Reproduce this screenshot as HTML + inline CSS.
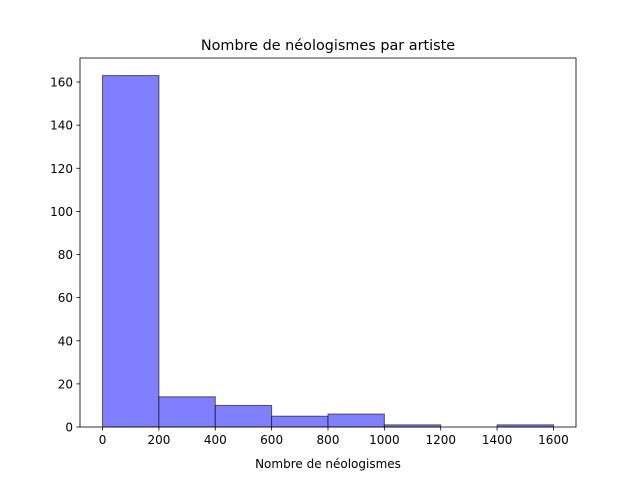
<!DOCTYPE html>
<html><head><meta charset="utf-8"><style>
body{margin:0;background:#fff;}
svg{display:block;font-family:"DejaVu Sans","Liberation Sans",sans-serif;}
</style></head><body>
<svg id="chart" width="640" height="480" viewBox="0 0 640 480">
<rect width="640" height="480" fill="#fff"/>
<text x="328" y="50" text-anchor="middle" font-size="14.4" fill="#000">Nombre de néologismes par artiste</text>
<g id="bars"></g>
<g id="xticks"></g>
<g id="yticks"></g>
<rect x="80" y="58" width="496" height="369" fill="none" stroke="#000" stroke-width="0.8"/>
<text x="328" y="468" text-anchor="middle" font-size="12" fill="#000">Nombre de néologismes</text>
</svg>
<script>
const binEdges = [0,200,400,600,800,1000,1200,1400,1600];
const counts = [163,14,10,5,6,1,0,1];
const xTicks = [0,200,400,600,800,1000,1200,1400,1600];
const yTicks = [0,20,40,60,80,100,120,140,160];

const ns = "http://www.w3.org/2000/svg";
const L=80,R=576,T=58,B=427;
const xMin=-80,xMax=1680,yMin=0,yMax=Math.max(...counts)*1.05;
function x(v){return L+(v-xMin)/(xMax-xMin)*(R-L);}
function y(v){return B-(v-yMin)/(yMax-yMin)*(B-T);}
function mk(tag,attrs,parent){const e=document.createElementNS(ns,tag);for(const k in attrs)e.setAttribute(k,attrs[k]);parent.appendChild(e);return e;}

const bars=document.getElementById('bars');
counts.forEach((c,i)=>{
  const x0=x(binEdges[i]),x1=x(binEdges[i+1]);
  const r=mk('rect',{x:x0,y:y(c),width:x1-x0,height:y(0)-y(c),fill:'#8080ff',stroke:'rgba(0,0,0,0.6)','stroke-width':1},bars);
  
  
});
const xt=document.getElementById('xticks');
xTicks.forEach(v=>{
  const g=mk('g',{},xt);
  
  
  mk('line',{x1:x(v),x2:x(v),y1:B,y2:B+3.5,stroke:'#000','stroke-width':0.8},g);
  const t=mk('text',{x:x(v),y:B+17,'text-anchor':'middle','font-size':12,fill:'#000'},g);
  t.textContent=v;
});
const yt=document.getElementById('yticks');
yTicks.forEach(v=>{
  const g=mk('g',{},yt);
  
  
  mk('line',{x1:L-3.5,x2:L,y1:y(v),y2:y(v),stroke:'#000','stroke-width':0.8},g);
  const t=mk('text',{x:L-7,y:y(v)+4.5,'text-anchor':'end','font-size':12,fill:'#000'},g);
  t.textContent=v;
});
</script>
</body></html>
